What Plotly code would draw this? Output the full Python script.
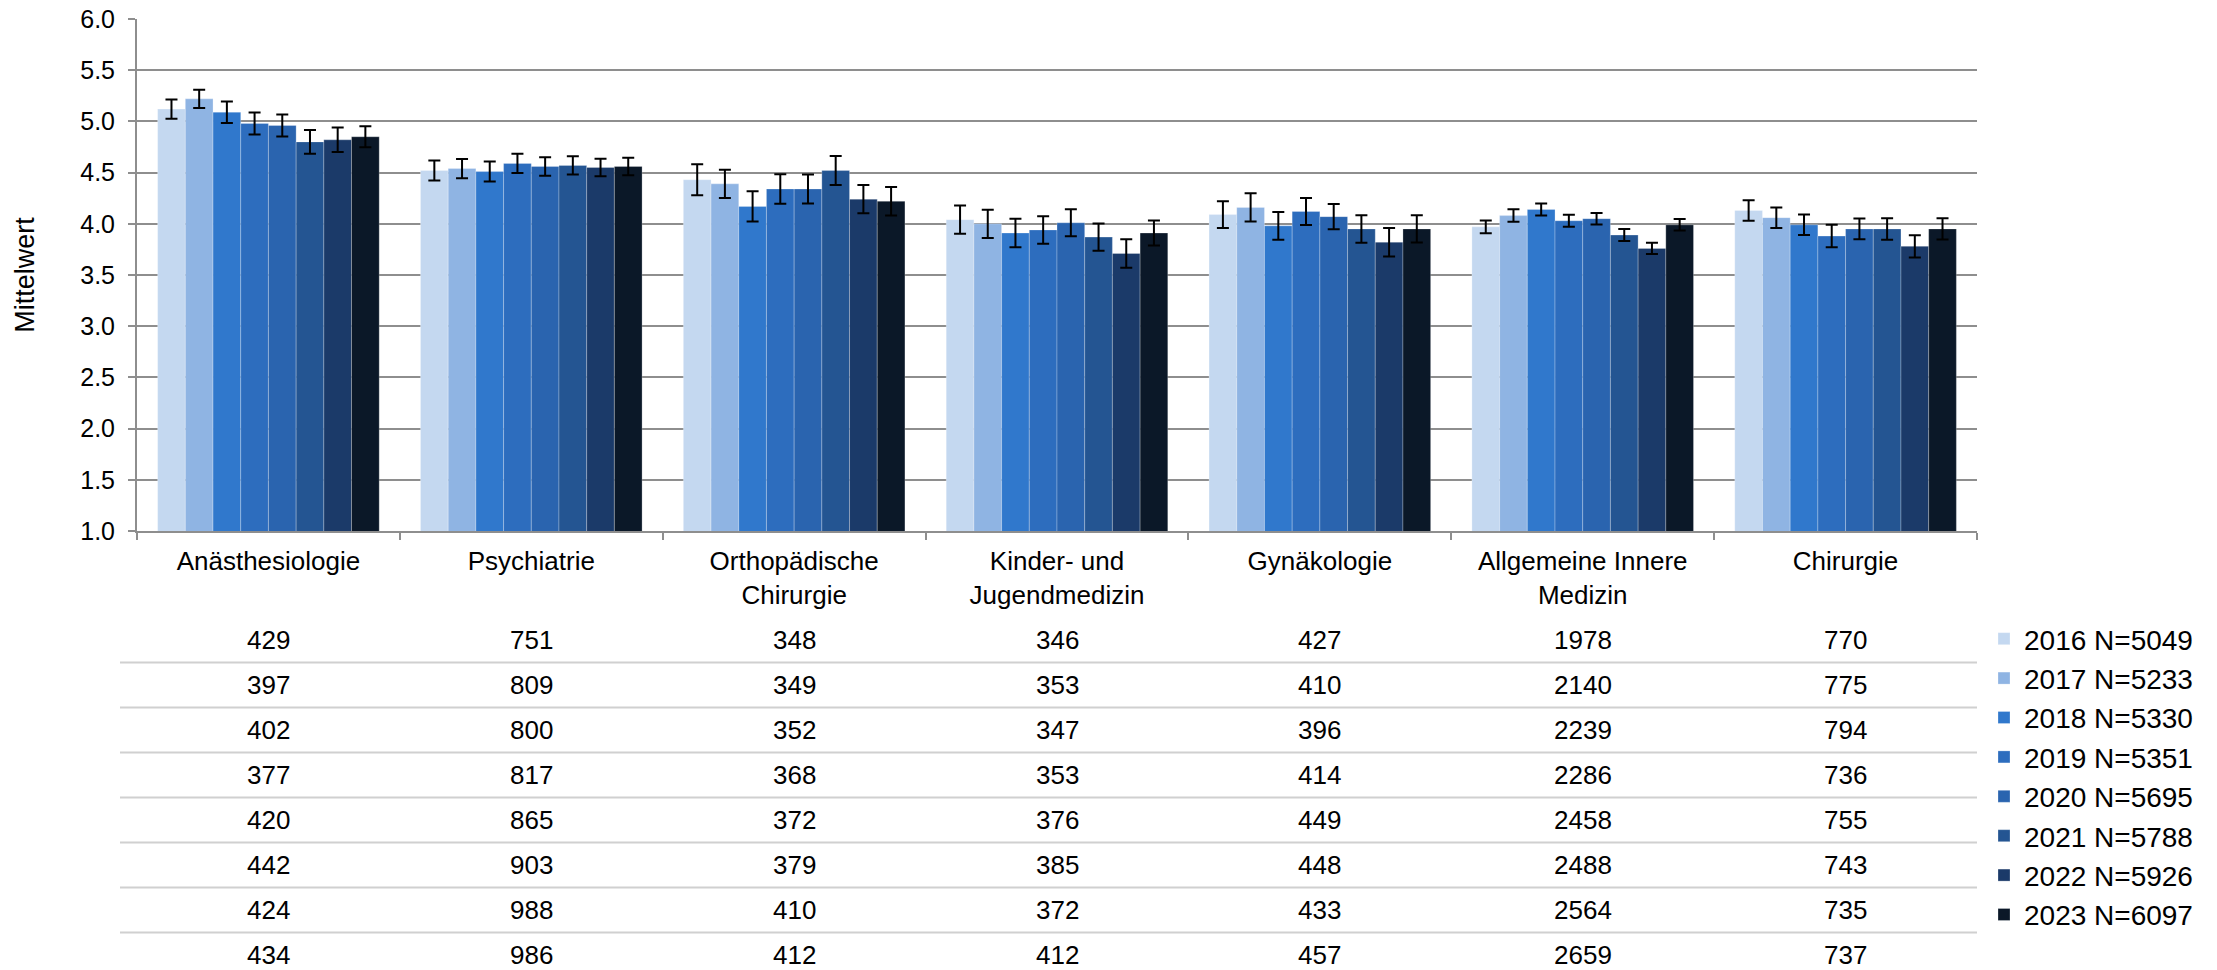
import plotly.graph_objects as go

categories = ["Anästhesiologie", "Psychiatrie", "Orthopädische<br>Chirurgie",
              "Kinder- und<br>Jugendmedizin", "Gynäkologie",
              "Allgemeine Innere<br>Medizin", "Chirurgie"]
years = ["2016", "2017", "2018", "2019", "2020", "2021", "2022", "2023"]
legend_labels = ["2016 N=5049", "2017 N=5233", "2018 N=5330", "2019 N=5351",
                 "2020 N=5695", "2021 N=5788", "2022 N=5926", "2023 N=6097"]

means_2016 = [5.12, 4.52, 4.43, 4.04, 4.09, 3.97, 4.13]
means_2017 = [5.22, 4.54, 4.39, 4.00, 4.16, 4.08, 4.06]
means_2018 = [5.09, 4.51, 4.17, 3.91, 3.98, 4.14, 3.99]
means_2019 = [4.98, 4.59, 4.34, 3.94, 4.12, 4.03, 3.88]
means_2020 = [4.96, 4.56, 4.34, 4.01, 4.07, 4.05, 3.95]
means_2021 = [4.80, 4.57, 4.52, 3.87, 3.95, 3.89, 3.95]
means_2022 = [4.82, 4.55, 4.24, 3.71, 3.82, 3.76, 3.78]
means_2023 = [4.85, 4.56, 4.22, 3.91, 3.95, 3.99, 3.95]

err_2016 = [0.095, 0.098, 0.152, 0.138, 0.131, 0.063, 0.101]
err_2017 = [0.090, 0.094, 0.138, 0.138, 0.138, 0.061, 0.100]
err_2018 = [0.105, 0.098, 0.147, 0.140, 0.136, 0.058, 0.100]
err_2019 = [0.108, 0.094, 0.145, 0.134, 0.131, 0.058, 0.110]
err_2020 = [0.107, 0.091, 0.141, 0.131, 0.124, 0.056, 0.101]
err_2021 = [0.117, 0.089, 0.141, 0.134, 0.134, 0.059, 0.105]
err_2022 = [0.120, 0.086, 0.138, 0.138, 0.140, 0.056, 0.108]
err_2023 = [0.103, 0.086, 0.140, 0.122, 0.133, 0.056, 0.103]

n_2016 = [429, 751, 348, 346, 427, 1978, 770]
n_2017 = [397, 809, 349, 353, 410, 2140, 775]
n_2018 = [402, 800, 352, 347, 396, 2239, 794]
n_2019 = [377, 817, 368, 353, 414, 2286, 736]
n_2020 = [420, 865, 372, 376, 449, 2458, 755]
n_2021 = [442, 903, 379, 385, 448, 2488, 743]
n_2022 = [424, 988, 410, 372, 433, 2564, 735]
n_2023 = [434, 986, 412, 412, 457, 2659, 737]

colors = ["#C4D8F0", "#8FB4E3", "#3078CC", "#2D6DBE", "#2A64AF",
          "#245592", "#1B3A69", "#0B1828"]

means = [means_2016, means_2017, means_2018, means_2019,
         means_2020, means_2021, means_2022, means_2023]
errs = [err_2016, err_2017, err_2018, err_2019,
        err_2020, err_2021, err_2022, err_2023]
ns = [n_2016, n_2017, n_2018, n_2019, n_2020, n_2021, n_2022, n_2023]

FONT = "Liberation Sans, Arial, sans-serif"
W, H = 2217, 970
PL, PR, PT, PB = 137, 1977, 19, 531   # plot area in pixels
PH = PB - PT

fig = go.Figure()
for i, y in enumerate(years):
    fig.add_trace(go.Bar(
        x=categories, y=means[i], name=legend_labels[i],
        legendgroup=y,
        marker=dict(color=colors[i], line=dict(color="rgba(255,255,255,0.25)", width=1)),
        error_y=dict(type="data", array=errs[i], visible=True,
                     color="black", thickness=2, width=6),
        hoverinfo="x+y",
    ))

def py(pix):
    return (PB - pix) / PH

annotations = []
row0, rowstep = 640, 45
for i in range(len(years)):
    for j, c in enumerate(categories):
        annotations.append(dict(
            x=c, xref="x", y=py(row0 + rowstep * i), yref="paper",
            text=str(ns[i][j]), showarrow=False,
            font=dict(family=FONT, size=26, color="black"),
            xanchor="center", yanchor="middle"))

shapes = []
for k in range(len(years) - 1):
    yy = py(row0 + rowstep * k + 22.5)
    shapes.append(dict(type="line", xref="paper", yref="paper",
                       x0=(120 - PL) / (PR - PL), x1=1.0, y0=yy, y1=yy,
                       line=dict(color="#D0D0D0", width=2)))

fig.update_layout(
    width=W, height=H, autosize=False,
    margin=dict(l=PL, r=W - PR, t=PT, b=H - PB, pad=0, autoexpand=False),
    paper_bgcolor="white", plot_bgcolor="white",
    barmode="group", bargap=0.157, bargroupgap=0,
    font=dict(family=FONT, size=26, color="black"),
    annotations=annotations, shapes=shapes,
    legend=dict(x=(1984 - PL) / (PR - PL), xanchor="left",
                y=py(614), yanchor="top",
                font=dict(family=FONT, size=28, color="black"),
                bgcolor="rgba(0,0,0,0)", traceorder="normal",
                itemclick=False, itemdoubleclick=False),
    showlegend=True,
)
fig.update_yaxes(range=[1, 6], dtick=0.5, tick0=1, tickformat=".1f",
                 automargin=False,
                 showgrid=True, gridcolor="#8E8E8E", gridwidth=2,
                 showline=True, linecolor="#8E8E8E", linewidth=2,
                 ticks="outside", ticklen=7, tickcolor="#8E8E8E", tickwidth=2,
                 tickfont=dict(family=FONT, size=25, color="black"),
                 ticklabelstandoff=8, zeroline=False,
                 title=dict(text="Mittelwert", standoff=38,
                            font=dict(family=FONT, size=27, color="black")))
fig.update_xaxes(showline=True, linecolor="#8E8E8E", linewidth=2,
                 automargin=False,
                 ticks="outside", tickson="boundaries", ticklen=7,
                 tickcolor="#8E8E8E", tickwidth=2,
                 tickfont=dict(family=FONT, size=26, color="black"),
                 ticklabelstandoff=6, showgrid=False)

fig.write_html("out.html",
               config={"displayModeBar": False},
               post_script="document.body.style.margin='0px';"
                           "document.body.style.overflow='hidden';")
